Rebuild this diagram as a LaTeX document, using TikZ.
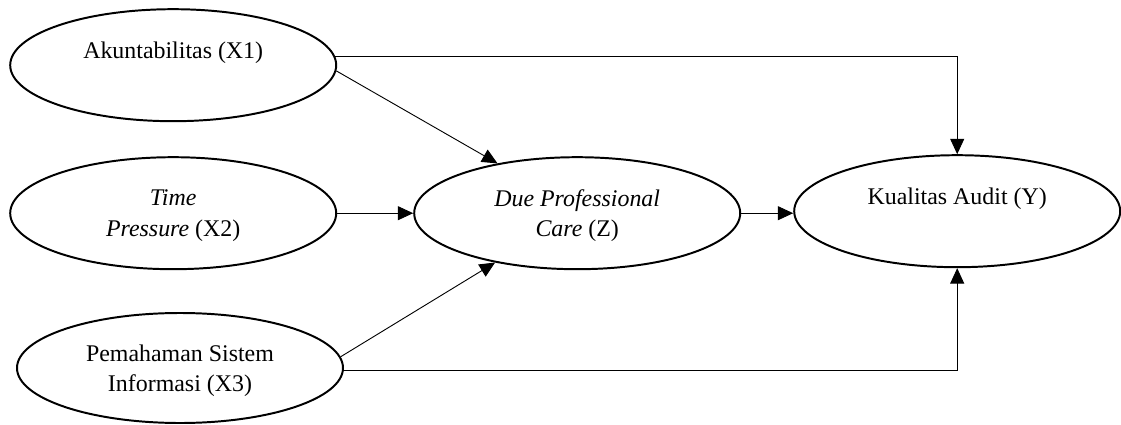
\documentclass[tikz,border=0pt]{standalone}
\usepackage{fontspec}
\setmainfont{Liberation Serif}
\usetikzlibrary{shapes.geometric,arrows.meta}

\begin{document}
\begin{tikzpicture}[
    var/.style={ellipse, draw, line width=1.4pt, minimum width=8.15cm, minimum height=2.8cm,
                inner sep=0pt, align=center, text depth=-4pt, font=\fontsize{17}{21.5}\selectfont},
    conn/.style={line width=0.65pt, -{Triangle[length=11pt, width=10pt]}},
]
    \useasboundingbox (0,0) rectangle (28.025,-10.625);

    % Variabel independen
    \node[var] (x1) at (4.33, -1.63) {Akuntabilitas (X1)\\\strut};
    \node[var] (x2) at (4.33, -5.33) {\textit{Time}\\\textit{Pressure} (X2)};
    \node[var, minimum height=2.75cm] (x3) at (4.5, -9.2) {Pemahaman Sistem\\Informasi (X3)};

    % Intervening dan dependen
    \node[var] (z) at (14.43, -5.33) {\textit{Due Professional}\\\textit{Care} (Z)};
    \node[var] (y) at (23.93, -5.28) {Kualitas Audit (Y)\\\strut};

    % Hubungan
    \draw[conn] (x1.3) -| (y.north);
    \draw[conn] (x1.-2) -- (z.148);
    \draw[conn] (x2.east) -- (z.west);
    \draw[conn] (z.east) -- (z.east -| y.west);
    \draw[conn] (x3.4) -- (z.211);
    \draw[conn] (x3.-1.5) -| (y.south);
\end{tikzpicture}
\end{document}
